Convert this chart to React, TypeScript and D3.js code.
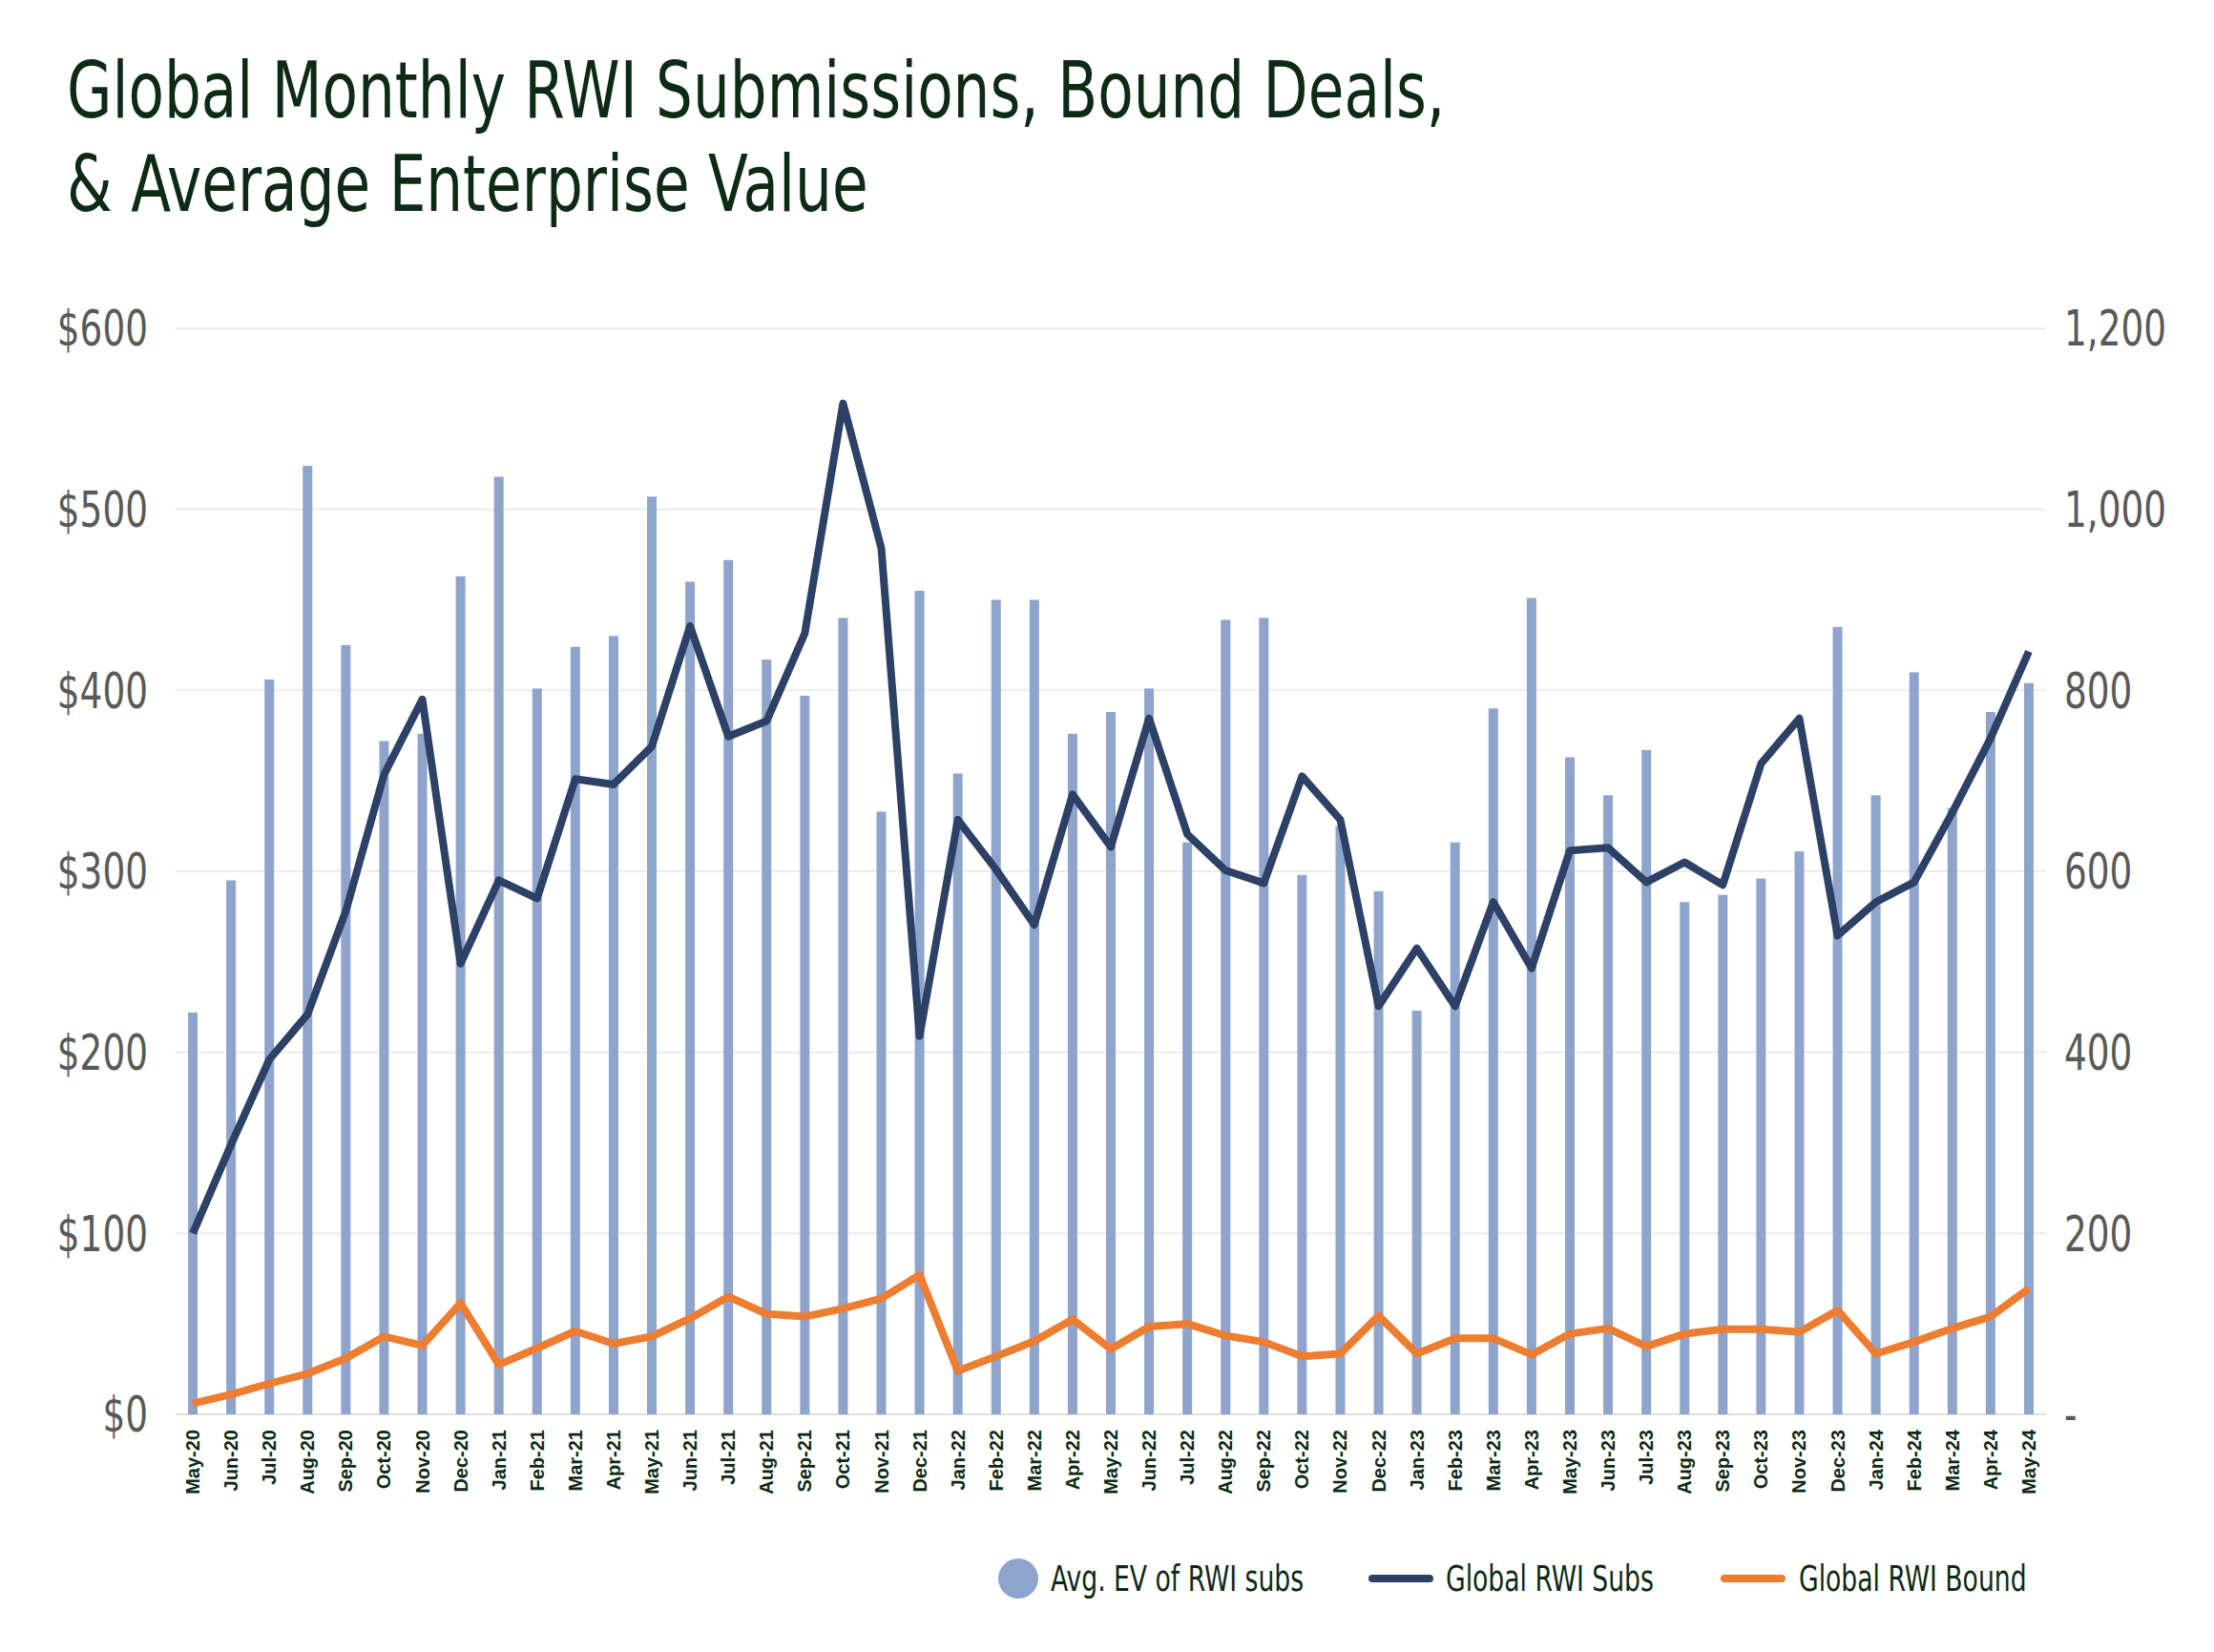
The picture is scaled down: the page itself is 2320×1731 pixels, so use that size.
import React from 'react';
import * as d3 from 'd3';

const months = [
  'May-20', 'Jun-20', 'Jul-20', 'Aug-20', 'Sep-20', 'Oct-20', 'Nov-20', 'Dec-20',
  'Jan-21', 'Feb-21', 'Mar-21', 'Apr-21', 'May-21', 'Jun-21', 'Jul-21', 'Aug-21', 'Sep-21', 'Oct-21', 'Nov-21', 'Dec-21',
  'Jan-22', 'Feb-22', 'Mar-22', 'Apr-22', 'May-22', 'Jun-22', 'Jul-22', 'Aug-22', 'Sep-22', 'Oct-22', 'Nov-22', 'Dec-22',
  'Jan-23', 'Feb-23', 'Mar-23', 'Apr-23', 'May-23', 'Jun-23', 'Jul-23', 'Aug-23', 'Sep-23', 'Oct-23', 'Nov-23', 'Dec-23',
  'Jan-24', 'Feb-24', 'Mar-24', 'Apr-24', 'May-24',
];

// Avg. EV of RWI subs ($M, left axis)
const avgEV = [
  222, 295, 406, 524, 425, 372, 376, 463,
  518, 401, 424, 430, 507, 460, 472, 417, 397, 440, 333, 455,
  354, 450, 450, 376, 388, 401, 316, 439, 440, 298, 325, 289,
  223, 316, 390, 451, 363, 342, 367, 283, 287, 296, 311, 435,
  342, 410, 335, 388, 404,
];

// Global RWI Subs (right axis)
const subs = [
  200, 298, 392, 442, 556, 707, 790, 498,
  590, 570, 702, 696, 738, 871, 749, 766, 863, 1117, 957, 418,
  657, 602, 541, 685, 627, 769, 641, 601, 587, 705, 657, 451,
  515, 451, 566, 493, 623, 626, 588, 610, 585, 719, 769, 529,
  566, 588, 665, 747, 843,
];

// Global RWI Bound (right axis)
const bound = [
  12, 22, 34, 45, 62, 86, 76, 123,
  55, 73, 92, 78, 86, 106, 130, 111, 108, 117, 128, 154,
  48, 64, 81, 105, 72, 97, 100, 87, 80, 64, 67, 109,
  67, 84, 84, 66, 89, 95, 75, 89, 94, 94, 91, 115,
  67, 80, 95, 108, 139,
];

const leftTicks = [0, 100, 200, 300, 400, 500, 600];
const rightTicks = [0, 200, 400, 600, 800, 1000, 1200];

const W = 2304;
const H = 1715;
const font = '"DejaVu Sans Condensed", "Roboto", sans-serif';
const titleColor = '#0d2a14';

// narrow text by squeezing it horizontally
const Narrow = ({ x, y, size, fill, anchor = 'start', sx = 0.8, children }: any) => (
  <g transform={`translate(${x},${y}) scale(${sx},1)`}>
    <text textAnchor={anchor} dy="0.35em" fontFamily={font} fontSize={size} fill={fill}>
      {children}
    </text>
  </g>
);

export default function App() {
  const x = d3.scaleBand<string>().domain(months).range([174, 2138]).paddingInner(0);
  const yL = d3.scaleLinear().domain([0, 600]).range([1474, 336]);
  const yR = d3.scaleLinear().domain([0, 1200]).range([1474, 336]);
  const cx = (i: number) => (x(months[i]) as number) + x.bandwidth() / 2;
  const line = (vals: number[]) =>
    d3.line<number>().x((_, i) => cx(i)).y((d) => yR(d))(vals) as string;

  return (
    <svg width={W} height={H} style={{ display: 'block', background: '#fff' }}>
      <g transform="translate(62,115) scale(0.83,1)">
        <text fontFamily={font} fontSize={82} fill={titleColor}>Global Monthly RWI Submissions, Bound Deals,</text>
      </g>
      <g transform="translate(62,213) scale(0.83,1)">
        <text fontFamily={font} fontSize={82} fill={titleColor}>&amp; Average Enterprise Value</text>
      </g>

      {leftTicks.map((t) => (
        <line key={t} x1={176} x2={2136} y1={yL(t)} y2={yL(t)} stroke={t === 0 ? '#dde3dd' : '#ececec'} strokeWidth={2} />
      ))}
      {leftTicks.map((t) => (
        <Narrow key={t} x={147} y={yL(t)} size={52} fill="#595959" anchor="end">
          {t === 0 ? '$0' : `$${t}`}
        </Narrow>
      ))}
      {rightTicks.map((t) => (
        <Narrow key={t} x={2155} y={yR(t)} size={52} fill="#595959">
          {t === 0 ? '-' : d3.format(',')(t)}
        </Narrow>
      ))}

      {avgEV.map((v, i) => (
        <rect key={i} x={cx(i) - 5} width={10} y={yL(v)} height={yL(0) - yL(v)} fill="#8ea4cd" />
      ))}

      <path d={line(subs)} fill="none" stroke="#2d4065" strokeWidth={8} strokeLinejoin="round" />
      <path d={line(bound)} fill="none" stroke="#ed7d31" strokeWidth={8} strokeLinejoin="round" />

      {months.map((m, i) => (
        <text
          key={m}
          transform={`translate(${cx(i) + 7},1490) rotate(-90)`}
          textAnchor="end"
          fontFamily="Liberation Sans, Arial, sans-serif"
          fontWeight="bold"
          fontSize={20}
          fill={titleColor}
        >
          {m}
        </text>
      ))}

      <circle cx={1059} cy={1646} r={21} fill="#8ea4cd" />
      <Narrow x={1093} y={1646} size={37} fill={titleColor}>Avg. EV of RWI subs</Narrow>
      <line x1={1430} x2={1490} y1={1646} y2={1646} stroke="#2d4065" strokeWidth={8} strokeLinecap="round" />
      <Narrow x={1507} y={1646} size={37} fill={titleColor}>Global RWI Subs</Narrow>
      <line x1={1799} x2={1859} y1={1646} y2={1646} stroke="#ed7d31" strokeWidth={8} strokeLinecap="round" />
      <Narrow x={1877} y={1646} size={37} fill={titleColor}>Global RWI Bound</Narrow>
    </svg>
  );
}
